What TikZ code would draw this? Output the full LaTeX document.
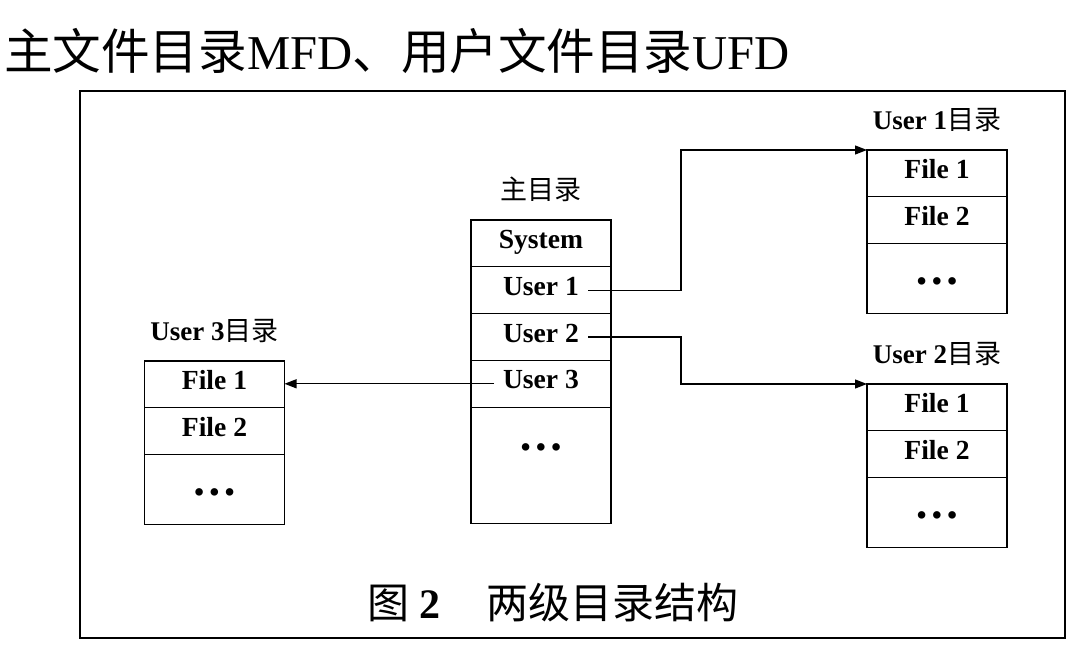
\documentclass[tikz,border=0pt]{standalone}
\usepackage{fontspec}
\setmainfont{Liberation Serif}
\newfontfamily\cjk{Noto Sans CJK SC}
\usepackage{tikz}
\usetikzlibrary{arrows.meta,positioning,calc}
\newcommand{\zh}[1]{{\cjk #1}}
\newcommand{\tdots}{\textbullet\hspace{2.8pt}\textbullet\hspace{2.8pt}\textbullet}

\begin{document}
\begin{tikzpicture}[x=0.5pt, y=-0.5pt,
  cell/.style={draw, line width=0.6pt, minimum width=70pt, minimum height=23.4pt,
               inner sep=0pt, outer sep=0pt, text depth=4pt,
               font=\fontsize{13.8}{16}\selectfont\bfseries},
  restcell/.style={cell, minimum height=35pt, text height=12pt, text depth=0pt},
  dirlabel/.style={font=\fontsize{13.5}{16}\selectfont, inner sep=0pt},
  arr/.style={-{Triangle[length=6pt,width=4.5pt]}, line width=0.6pt},
  node distance=0pt
]
  \useasboundingbox (0,0) rectangle (1078,646);
  \draw[line width=0.7pt] (80,91) rectangle (1065,638);

  \node[anchor=west, font=\fontsize{24.3}{28}\selectfont] (title) at (-3,51)
    {\zh{主文件目录}MFD\zh{、用户文件目录}UFD};

  % main directory
  \node[cell, anchor=north] (ms) at (541,220) {System};
  \node[cell, below=of ms] (mu1) {User 1};
  \node[cell, below=of mu1] (mu2) {User 2};
  \node[cell, below=of mu2] (mu3) {User 3};
  \node[cell, below=of mu3, minimum height=58pt, text depth=15pt] (mrest) {\tdots};
  \node[dirlabel, above=9pt of ms] (mlabel) {\zh{主目录}};

  % user 1
  \node[cell, anchor=north] (ua1) at (937,150) {File 1};
  \node[cell, below=of ua1] (ua2) {File 2};
  \node[restcell, below=of ua2] (uarest) {\tdots};
  \node[dirlabel, above=9pt of ua1] (ualabel) {\textbf{User 1}\zh{目录}};

  % user 2
  \node[cell, anchor=north] (ub1) at (937,384) {File 1};
  \node[cell, below=of ub1] (ub2) {File 2};
  \node[restcell, below=of ub2] (ubrest) {\tdots};
  \node[dirlabel, above=9pt of ub1] (ublabel) {\textbf{User 2}\zh{目录}};

  % user 3
  \node[cell, anchor=north] (uc1) at (214.5,361) {File 1};
  \node[cell, below=of uc1] (uc2) {File 2};
  \node[restcell, below=of uc2] (ucrest) {\tdots};
  \node[dirlabel, above=9pt of uc1] (uclabel) {\textbf{User 3}\zh{目录}};

  \coordinate (s1) at ($(mu1.center)+(47,0)$);
  \coordinate (s2) at ($(mu2.center)+(47,0)$);
  \coordinate (s3) at ($(mu3.center)+(-47,0)$);
  \draw[arr] (s1) -- ++(93,0) |- (ua1.north west);
  \draw[arr] (s2) -- ++(93,0) |- (ub1.north west);
  \draw[arr] (s3) -- (s3 -| uc1.east);

  \node[font=\fontsize{21}{25}\selectfont] (caption) at (553,603)
    {\zh{图} \textbf{2}\hspace{1.1em}\zh{两级目录结构}};
\end{tikzpicture}
\end{document}
